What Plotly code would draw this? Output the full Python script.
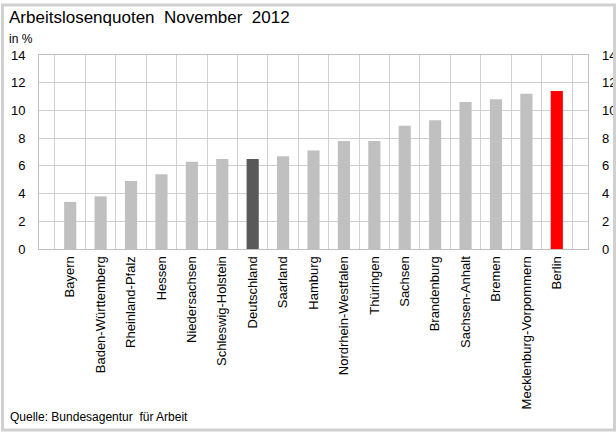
import plotly.graph_objects as go

# Arbeitslosenquoten November 2012, in %
laender = [
    "Bayern", "Baden-Württemberg", "Rheinland-Pfalz", "Hessen", "Niedersachsen",
    "Schleswig-Holstein", "Deutschland", "Saarland", "Hamburg", "Nordrhein-Westfalen",
    "Thüringen", "Sachsen", "Brandenburg", "Sachsen-Anhalt", "Bremen",
    "Mecklenburg-Vorpommern", "Berlin",
]
quoten = [3.4, 3.8, 4.9, 5.4, 6.3, 6.5, 6.5, 6.7, 7.1, 7.8, 7.8, 8.9, 9.3, 10.6, 10.8, 11.2, 11.4]
y_ticks = [0, 2, 4, 6, 8, 10, 12, 14]

farben = []
for name in laender:
    if name == "Deutschland":
        farben.append("#595959")
    elif name == "Berlin":
        farben.append("#ff0000")
    else:
        farben.append("#c0c0c0")

W, H = 616, 432
L, R, T, B = 39, 28, 55, 183
pw, ph = W - L - R, H - T - B

fig = go.Figure()
fig.add_trace(go.Bar(x=laender, y=quoten, marker=dict(color=farben, line_width=0),
                     showlegend=False))
# invisible trace for the mirrored right axis
fig.add_trace(go.Scatter(x=laender, y=quoten, yaxis="y2", mode="markers",
                         marker=dict(opacity=0), showlegend=False, hoverinfo="skip"))

font = "Liberation Sans, Arial, sans-serif"
fig.update_layout(
    width=W, height=H,
    margin=dict(l=L, r=R, t=T, b=B, autoexpand=False),
    paper_bgcolor="white", plot_bgcolor="white",
    font=dict(family=font, size=13, color="black"),
    bargap=0.6,
    xaxis=dict(type="category", tickangle=-90, tickson="boundaries", automargin=False,
               showgrid=True, gridcolor="#d0d0d0", gridwidth=1,
               showline=True, linecolor="#c0c0c0", mirror=True,
               ticks="", tickfont=dict(size=13), ticklabelstandoff=1),
    yaxis=dict(range=[0, 14], tickvals=y_ticks, showgrid=True, gridcolor="#d0d0d0",
               showline=True, linecolor="#c0c0c0", mirror=True, zeroline=False,
               automargin=False, ticks="", tickfont=dict(size=13), ticklabelstandoff=10),
    yaxis2=dict(range=[0, 14], tickvals=y_ticks, overlaying="y", side="right",
                showgrid=False, showline=False, zeroline=False, ticks="", automargin=False,
                tickfont=dict(size=13), ticklabelstandoff=13),
    shapes=[dict(type="rect", xref="paper", yref="paper",
                 x0=(2.5 - L) / pw, x1=(W - 1.5 - L) / pw,
                 y0=-(B - 2) / ph, y1=1 + (T - 5) / ph,
                 line=dict(color="#d0d0d0", width=3))],
    annotations=[
        dict(text="Arbeitslosenquoten  November  2012", xref="paper", yref="paper",
             x=(7 - L) / pw, y=1 + (T - 6) / ph, xanchor="left", yanchor="top",
             showarrow=False, font=dict(size=17)),
        dict(text="in %", xref="paper", yref="paper",
             x=(7 - L) / pw, y=1 + (T - 30) / ph, xanchor="left", yanchor="top",
             showarrow=False, font=dict(size=12)),
        dict(text="Quelle: Bundesagentur  für Arbeit", xref="paper", yref="paper",
             x=(8 - L) / pw, y=-(B - 6) / ph, xanchor="left", yanchor="bottom",
             showarrow=False, font=dict(size=12)),
    ],
)

# the page's default body margin would shift the figure by 8px
fig.write_html("out.html", config={"displayModeBar": False},
               post_script="document.body.style.margin = '0';")
